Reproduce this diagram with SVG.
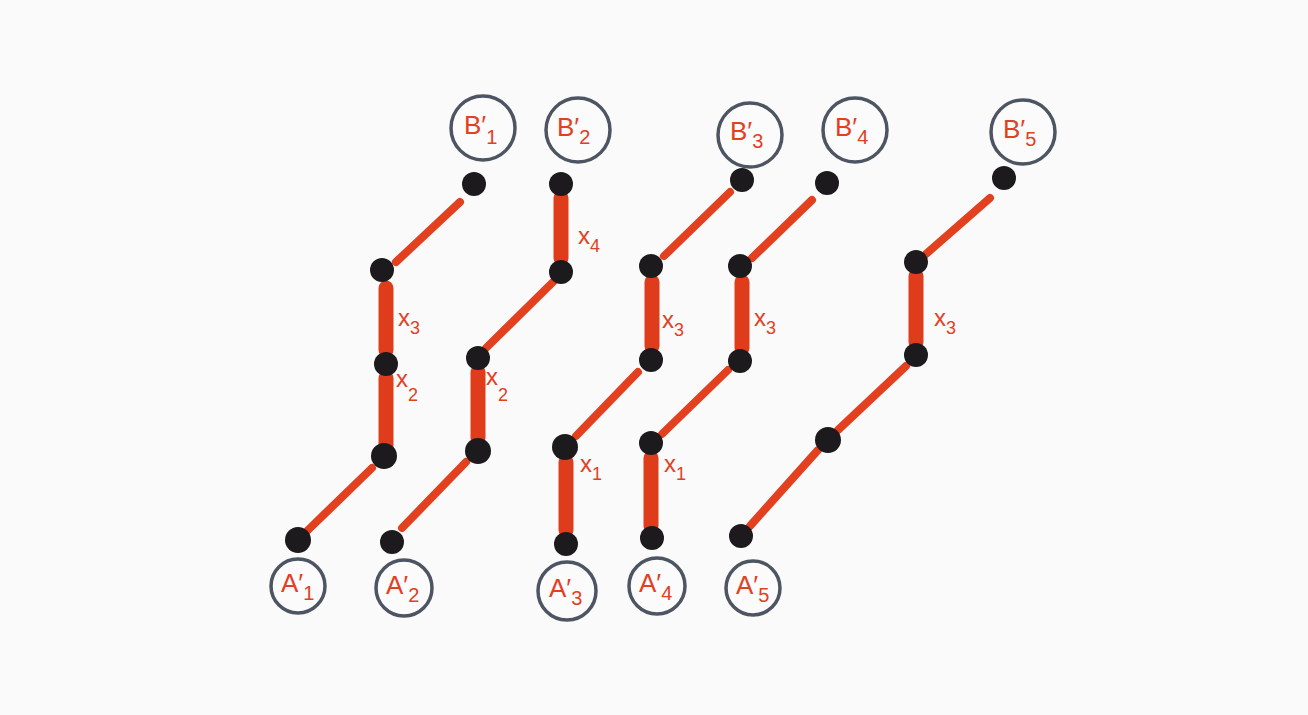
<svg xmlns="http://www.w3.org/2000/svg" width="1308" height="715" viewBox="0 0 1308 715">
<style>
.bg{fill:#fafafa}
.ring{fill:#fbfbfb;stroke:#4d5563;stroke-width:3.5}
.lbl{font-family:"Liberation Sans",Arial,sans-serif;font-size:26px;fill:#e2401f}
.sub{font-size:20px}
.dot{fill:#1d1a1e}
.thin{stroke:#e2401f;stroke-width:8;stroke-linecap:round;fill:none}
.thick{stroke:#df3c1c;stroke-width:15;stroke-linecap:round;fill:none}
.xl{font-family:"Liberation Sans",Arial,sans-serif;font-size:24px;fill:#e2401f}
.xs{font-size:18px}
</style>
<rect class="bg" x="0" y="0" width="1308" height="715"/>
<g id="connectors">
<line class="thin" x1="460" y1="202" x2="396" y2="262"/>
<line class="thick" x1="386" y1="288" x2="386" y2="350"/>
<line class="thick" x1="386" y1="378" x2="386" y2="446"/>
<line class="thin" x1="372" y1="468" x2="306" y2="532"/>
<line class="thick" x1="561" y1="198" x2="561" y2="258"/>
<line class="thin" x1="553" y1="282" x2="486" y2="348"/>
<line class="thick" x1="478" y1="372" x2="478" y2="438"/>
<line class="thin" x1="466" y1="462" x2="402" y2="528"/>
<line class="thin" x1="730" y1="192" x2="664" y2="256"/>
<line class="thick" x1="652" y1="282" x2="652" y2="346"/>
<line class="thin" x1="638" y1="372" x2="576" y2="436"/>
<line class="thick" x1="566" y1="462" x2="566" y2="530"/>
<line class="thin" x1="812" y1="200" x2="752" y2="258"/>
<line class="thick" x1="742" y1="282" x2="742" y2="348"/>
<line class="thin" x1="728" y1="370" x2="662" y2="434"/>
<line class="thick" x1="651" y1="458" x2="651" y2="526"/>
<line class="thin" x1="990" y1="198" x2="926" y2="254"/>
<line class="thick" x1="916" y1="276" x2="916" y2="342"/>
<line class="thin" x1="906" y1="366" x2="838" y2="430"/>
<line class="thin" x1="818" y1="450" x2="750" y2="526"/>
</g>
<g id="labels">
<text class="xl" x="398" y="326">x<tspan class="xs" dy="8">3</tspan></text>
<text class="xl" x="396" y="387">x<tspan class="xs" dy="14">2</tspan></text>
<text class="xl" x="578" y="244">x<tspan class="xs" dy="8">4</tspan></text>
<text class="xl" x="486" y="385">x<tspan class="xs" dy="16">2</tspan></text>
<text class="xl" x="662" y="328">x<tspan class="xs" dy="8">3</tspan></text>
<text class="xl" x="580" y="472">x<tspan class="xs" dy="8">1</tspan></text>
<text class="xl" x="754" y="326">x<tspan class="xs" dy="8">3</tspan></text>
<text class="xl" x="664" y="472">x<tspan class="xs" dy="8">1</tspan></text>
<text class="xl" x="934" y="326">x<tspan class="xs" dy="8">3</tspan></text>
</g>
<g id="B1"><circle class="ring" cx="483" cy="128" r="32"/><text class="lbl" x="464" y="134">B′<tspan class="sub" dy="10">1</tspan></text></g>
<g id="B2"><circle class="ring" cx="578" cy="130" r="32"/><text class="lbl" x="557" y="136">B′<tspan class="sub" dy="8">2</tspan></text></g>
<g id="B3"><circle class="ring" cx="750" cy="135" r="32"/><text class="lbl" x="730" y="140">B′<tspan class="sub" dy="8">3</tspan></text></g>
<g id="B4"><circle class="ring" cx="855" cy="130" r="32"/><text class="lbl" x="835" y="136">B′<tspan class="sub" dy="8">4</tspan></text></g>
<g id="B5"><circle class="ring" cx="1023" cy="132" r="32"/><text class="lbl" x="1003" y="138">B′<tspan class="sub" dy="8">5</tspan></text></g>
<g id="A1"><circle class="ring" cx="298" cy="586" r="27"/><text class="lbl" x="281" y="592">A′<tspan class="sub" dy="8">1</tspan></text></g>
<g id="A2"><circle class="ring" cx="404" cy="588" r="28"/><text class="lbl" x="386" y="594">A′<tspan class="sub" dy="8">2</tspan></text></g>
<g id="A3"><circle class="ring" cx="567" cy="591" r="29"/><text class="lbl" x="549" y="597">A′<tspan class="sub" dy="8">3</tspan></text></g>
<g id="A4"><circle class="ring" cx="657" cy="586" r="28"/><text class="lbl" x="639" y="592">A′<tspan class="sub" dy="8">4</tspan></text></g>
<g id="A5"><circle class="ring" cx="753" cy="588" r="27"/><text class="lbl" x="736" y="594">A′<tspan class="sub" dy="8">5</tspan></text></g>
<g id="dots">
<circle class="dot" cx="474" cy="184" r="12"/>
<circle class="dot" cx="382" cy="270" r="12"/>
<circle class="dot" cx="386" cy="364" r="12"/>
<circle class="dot" cx="384" cy="456" r="13"/>
<circle class="dot" cx="298" cy="540" r="13"/>
<circle class="dot" cx="561" cy="184" r="12"/>
<circle class="dot" cx="561" cy="272" r="12"/>
<circle class="dot" cx="478" cy="358" r="12"/>
<circle class="dot" cx="478" cy="451" r="13"/>
<circle class="dot" cx="392" cy="542" r="12"/>
<circle class="dot" cx="742" cy="180" r="12"/>
<circle class="dot" cx="651" cy="266" r="12"/>
<circle class="dot" cx="651" cy="360" r="12"/>
<circle class="dot" cx="565" cy="447" r="13"/>
<circle class="dot" cx="566" cy="544" r="12"/>
<circle class="dot" cx="827" cy="183" r="12"/>
<circle class="dot" cx="740" cy="266" r="12"/>
<circle class="dot" cx="740" cy="361" r="12"/>
<circle class="dot" cx="651" cy="443" r="12"/>
<circle class="dot" cx="652" cy="538" r="12"/>
<circle class="dot" cx="1004" cy="178" r="12"/>
<circle class="dot" cx="916" cy="262" r="12"/>
<circle class="dot" cx="916" cy="355" r="12"/>
<circle class="dot" cx="828" cy="440" r="13"/>
<circle class="dot" cx="741" cy="536" r="12"/>
</g>
</svg>
